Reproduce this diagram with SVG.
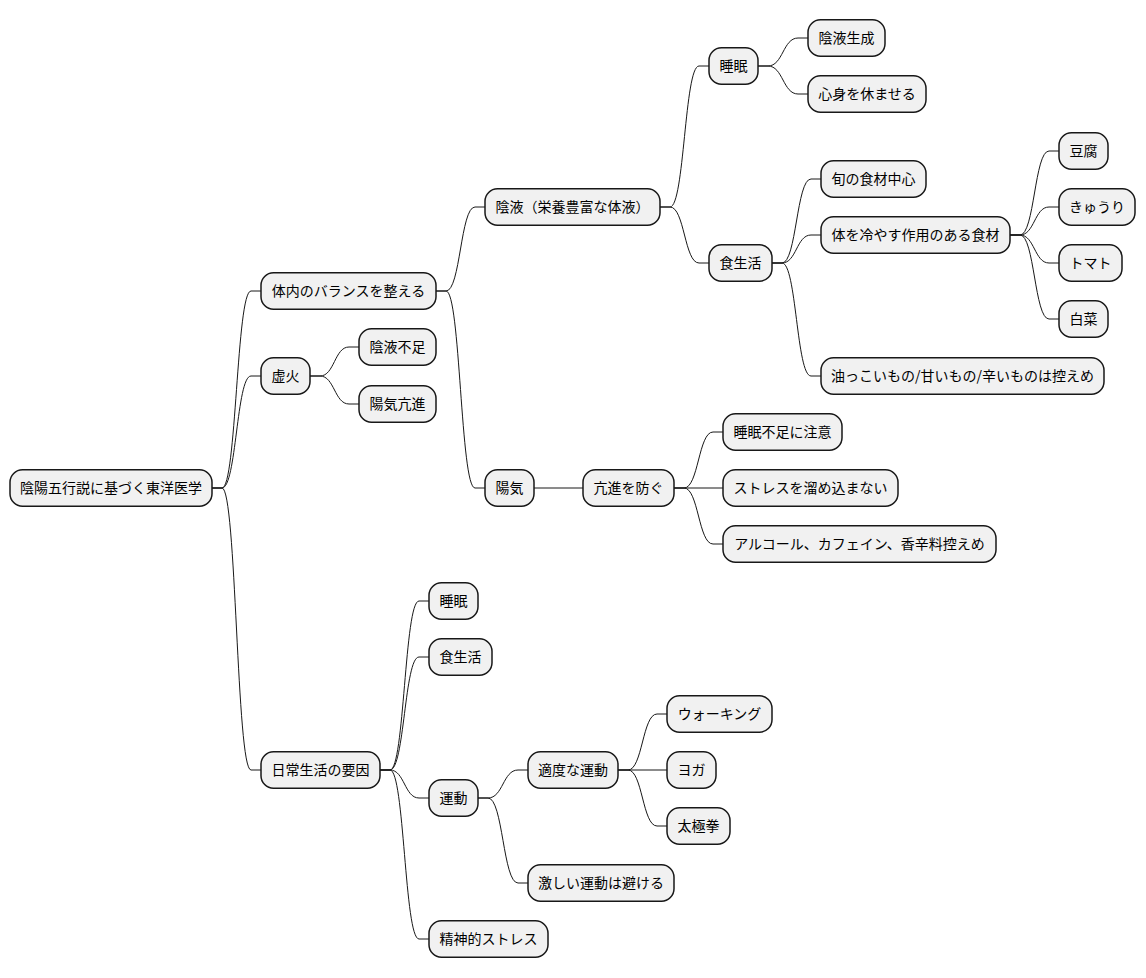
<svg xmlns="http://www.w3.org/2000/svg" width="1146" height="978" viewBox="0 0 1146 978">
<style>
.n rect{fill:#F1F1F1;stroke:#181818;stroke-width:1.5}
.n text{font-family:"Noto Sans CJK JP","Noto Sans",sans-serif;font-size:14px;fill:#000;text-anchor:middle}
#links path{fill:none;stroke:#181818;stroke-width:1}
</style>
<rect width="1146" height="978" fill="#FFFFFF"/>
<g id="links">
<path d="M212,488 L222,488 C236.5,488 236.5,291 251,291 L261,291"/>
<path d="M212,488 L222,488 C236.5,488 236.5,376 251,376 L261,376"/>
<path d="M212,488 L222,488 C236.5,488 236.5,770 251,770 L261,770"/>
<path d="M436,291 L446,291 C460.5,291 460.5,207 475,207 L485,207"/>
<path d="M436,291 L446,291 C460.5,291 460.5,488 475,488 L485,488"/>
<path d="M310,376 L320,376 C334.5,376 334.5,347 349,347 L359,347"/>
<path d="M310,376 L320,376 C334.5,376 334.5,404 349,404 L359,404"/>
<path d="M660,207 L670,207 C684.5,207 684.5,66 699,66 L709,66"/>
<path d="M660,207 L670,207 C684.5,207 684.5,263 699,263 L709,263"/>
<path d="M758,66 L768,66 C783,66 783,38 798,38 L808,38"/>
<path d="M758,66 L768,66 C783,66 783,94 798,94 L808,94"/>
<path d="M772,263 L782,263 C796.5,263 796.5,179 811,179 L821,179"/>
<path d="M772,263 L782,263 C796.5,263 796.5,235 811,235 L821,235"/>
<path d="M772,263 L782,263 C796.5,263 796.5,376 811,376 L821,376"/>
<path d="M1010,235 L1020,235 C1034.5,235 1034.5,151 1049,151 L1059,151"/>
<path d="M1010,235 L1020,235 C1034.5,235 1034.5,207 1049,207 L1059,207"/>
<path d="M1010,235 L1020,235 C1034.5,235 1034.5,263 1049,263 L1059,263"/>
<path d="M1010,235 L1020,235 C1034.5,235 1034.5,319 1049,319 L1059,319"/>
<path d="M534,488 L583,488"/>
<path d="M674,488 L684,488 C698.5,488 698.5,432 713,432 L723,432"/>
<path d="M674,488 L723,488"/>
<path d="M674,488 L684,488 C698.5,488 698.5,544 713,544 L723,544"/>
<path d="M380,770 L390,770 C404.5,770 404.5,601 419,601 L429,601"/>
<path d="M380,770 L390,770 C404.5,770 404.5,657 419,657 L429,657"/>
<path d="M380,770 L390,770 C404.5,770 404.5,798 419,798 L429,798"/>
<path d="M380,770 L390,770 C404.5,770 404.5,939 419,939 L429,939"/>
<path d="M478,798 L488,798 C503,798 503,770 518,770 L528,770"/>
<path d="M478,798 L488,798 C503,798 503,883 518,883 L528,883"/>
<path d="M618,770 L628,770 C642.5,770 642.5,714 657,714 L667,714"/>
<path d="M618,770 L667,770"/>
<path d="M618,770 L628,770 C642.5,770 642.5,826 657,826 L667,826"/>
</g>
<g id="root" class="n"><rect x="10" y="469.85" width="202" height="36.3" rx="12.5"/><text x="111" y="493">陰陽五行説に基づく東洋医学</text></g>
<g id="balance" class="n"><rect x="261" y="272.85" width="175" height="36.3" rx="12.5"/><text x="348.5" y="296">体内のバランスを整える</text></g>
<g id="kyoka" class="n"><rect x="261" y="357.85" width="49" height="36.3" rx="12.5"/><text x="285.5" y="381">虚火</text></g>
<g id="daily" class="n"><rect x="261" y="751.85" width="119" height="36.3" rx="12.5"/><text x="320.5" y="775">日常生活の要因</text></g>
<g id="ineki" class="n"><rect x="485" y="188.85" width="175" height="36.3" rx="12.5"/><text x="572.5" y="212">陰液（栄養豊富な体液）</text></g>
<g id="youki" class="n"><rect x="485" y="469.85" width="49" height="36.3" rx="12.5"/><text x="509.5" y="493">陽気</text></g>
<g id="inekifusoku" class="n"><rect x="359" y="328.85" width="77" height="36.3" rx="12.5"/><text x="397.5" y="352">陰液不足</text></g>
<g id="youkikoushin" class="n"><rect x="359" y="385.85" width="77" height="36.3" rx="12.5"/><text x="397.5" y="409">陽気亢進</text></g>
<g id="sleep1" class="n"><rect x="709" y="47.85" width="49" height="36.3" rx="12.5"/><text x="733.5" y="71">睡眠</text></g>
<g id="diet1" class="n"><rect x="709" y="244.85" width="63" height="36.3" rx="12.5"/><text x="740.5" y="268">食生活</text></g>
<g id="inekiseisei" class="n"><rect x="808" y="19.85" width="77" height="36.3" rx="12.5"/><text x="846.5" y="43">陰液生成</text></g>
<g id="shinshin" class="n"><rect x="808" y="75.85" width="118" height="36.3" rx="12.5"/><text x="867" y="99">心身を休ませる</text></g>
<g id="shun" class="n"><rect x="821" y="160.85" width="105" height="36.3" rx="12.5"/><text x="873.5" y="184">旬の食材中心</text></g>
<g id="hiyasu" class="n"><rect x="821" y="216.85" width="189" height="36.3" rx="12.5"/><text x="915.5" y="240">体を冷やす作用のある食材</text></g>
<g id="abura" class="n"><rect x="821" y="357.85" width="283" height="36.3" rx="12.5"/><text x="962.5" y="381">油っこいもの/甘いもの/辛いものは控えめ</text></g>
<g id="tofu" class="n"><rect x="1059" y="132.85" width="49" height="36.3" rx="12.5"/><text x="1083.5" y="156">豆腐</text></g>
<g id="kyuri" class="n"><rect x="1059" y="188.85" width="76" height="36.3" rx="12.5"/><text x="1097" y="212">きゅうり</text></g>
<g id="tomato" class="n"><rect x="1059" y="244.85" width="63" height="36.3" rx="12.5"/><text x="1090.5" y="268">トマト</text></g>
<g id="hakusai" class="n"><rect x="1059" y="300.85" width="49" height="36.3" rx="12.5"/><text x="1083.5" y="324">白菜</text></g>
<g id="fusegu" class="n"><rect x="583" y="469.85" width="91" height="36.3" rx="12.5"/><text x="628.5" y="493">亢進を防ぐ</text></g>
<g id="suiminbusoku" class="n"><rect x="723" y="413.85" width="119" height="36.3" rx="12.5"/><text x="782.5" y="437">睡眠不足に注意</text></g>
<g id="stress1" class="n"><rect x="723" y="469.85" width="175" height="36.3" rx="12.5"/><text x="810.5" y="493">ストレスを溜め込まない</text></g>
<g id="alcohol" class="n"><rect x="723" y="525.85" width="273" height="36.3" rx="12.5"/><text x="859.5" y="549">アルコール、カフェイン、香辛料控えめ</text></g>
<g id="sleep2" class="n"><rect x="429" y="582.85" width="49" height="36.3" rx="12.5"/><text x="453.5" y="606">睡眠</text></g>
<g id="diet2" class="n"><rect x="429" y="638.85" width="63" height="36.3" rx="12.5"/><text x="460.5" y="662">食生活</text></g>
<g id="exercise" class="n"><rect x="429" y="779.85" width="49" height="36.3" rx="12.5"/><text x="453.5" y="803">運動</text></g>
<g id="mental" class="n"><rect x="429" y="920.85" width="119" height="36.3" rx="12.5"/><text x="488.5" y="944">精神的ストレス</text></g>
<g id="moderate" class="n"><rect x="528" y="751.85" width="90" height="36.3" rx="12.5"/><text x="573" y="775">適度な運動</text></g>
<g id="intense" class="n"><rect x="528" y="864.85" width="146" height="36.3" rx="12.5"/><text x="601" y="888">激しい運動は避ける</text></g>
<g id="walking" class="n"><rect x="667" y="695.85" width="105" height="36.3" rx="12.5"/><text x="719.5" y="719">ウォーキング</text></g>
<g id="yoga" class="n"><rect x="667" y="751.85" width="49" height="36.3" rx="12.5"/><text x="691.5" y="775">ヨガ</text></g>
<g id="taichi" class="n"><rect x="667" y="807.85" width="63" height="36.3" rx="12.5"/><text x="698.5" y="831">太極拳</text></g>
</svg>
